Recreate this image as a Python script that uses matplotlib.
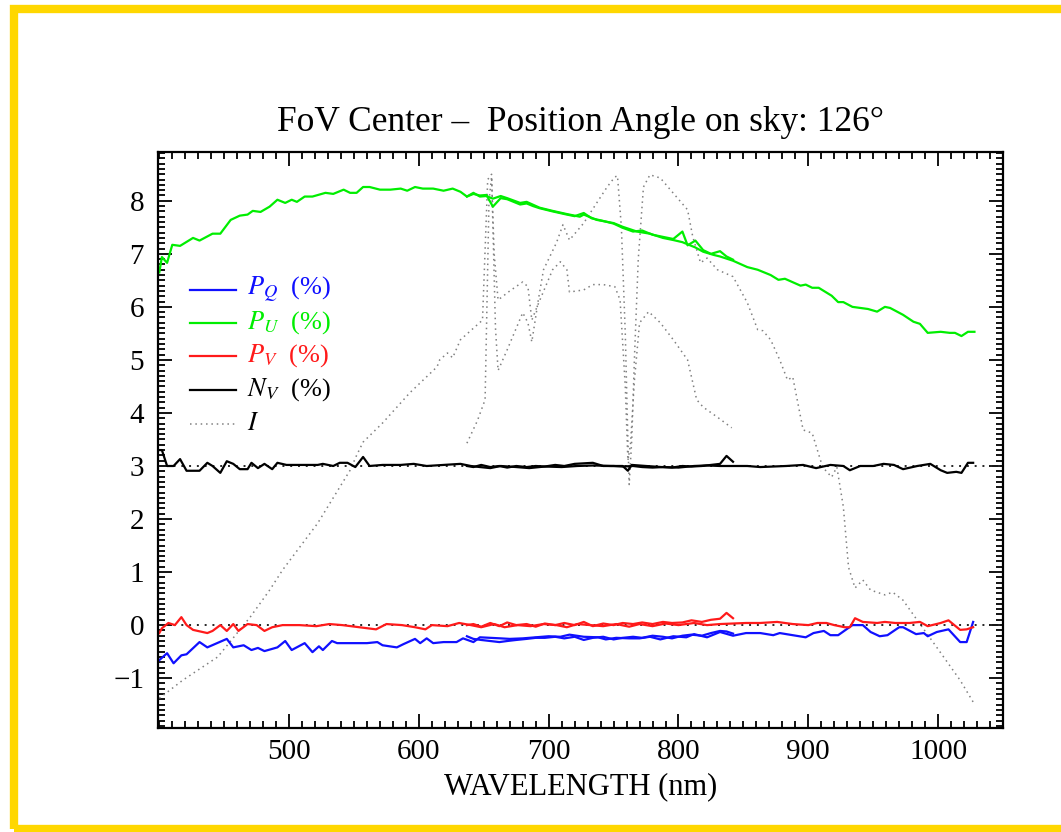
import numpy as np
import matplotlib
matplotlib.use('Agg')
import matplotlib.pyplot as plt
from matplotlib.ticker import MultipleLocator
from matplotlib.patches import Rectangle

plt.rcParams['font.family'] = ['Liberation Serif', 'DejaVu Serif']
plt.rcParams['mathtext.fontset'] = 'stix'

# ---- data set 1 (full range) ----
wl_pq1 = [400, 406, 411, 417, 421, 431, 437, 452, 457, 465, 471, 476, 481, 491, 497, 502, 512, 518,
          523, 526, 533, 537, 547, 560, 568, 572, 583, 588, 597, 601, 606, 611, 619, 629, 634, 642,
          647, 655, 663, 670, 680, 690, 700, 709, 716, 727, 738, 744, 752, 762, 770, 778, 786, 796,
          806, 812, 822, 832, 842, 852, 863, 873, 878, 888, 898, 904, 912, 917, 923, 934, 942, 948,
          955, 961, 970, 973, 983, 989, 992, 999, 1008, 1017, 1022, 1027]
pq1 = [-0.66, -0.53, -0.72, -0.57, -0.55, -0.32, -0.42, -0.26, -0.42, -0.38, -0.47, -0.43, -0.49,
       -0.42, -0.30, -0.47, -0.34, -0.51, -0.40, -0.47, -0.30, -0.34, -0.34, -0.34, -0.32, -0.38,
       -0.42, -0.36, -0.26, -0.34, -0.25, -0.34, -0.32, -0.32, -0.25, -0.32, -0.23, -0.24, -0.25,
       -0.26, -0.25, -0.23, -0.21, -0.22, -0.18, -0.22, -0.23, -0.27, -0.24, -0.25, -0.25, -0.22,
       -0.27, -0.21, -0.23, -0.17, -0.23, -0.13, -0.20, -0.15, -0.15, -0.19, -0.15, -0.19, -0.23,
       -0.15, -0.11, -0.19, -0.19, 0.0, 0.0, -0.13, -0.21, -0.19, -0.04, -0.04, -0.17, -0.15, -0.21,
       -0.13, -0.08, -0.32, -0.32, 0.06]

wl_pu1 = [400, 402, 406, 410, 416, 426, 431, 441, 447, 455, 462, 468, 472, 478, 485, 491, 497, 502,
          506, 512, 518, 528, 534, 542, 547, 552, 557, 562, 570, 578, 586, 591, 597, 603, 611, 619,
          626, 632, 637, 642, 647, 652, 657, 663, 668, 678, 683, 693, 703, 714, 724, 727, 737, 750,
          757, 768, 778, 788, 796, 803, 807, 813, 819, 827, 832, 842, 853, 861, 871, 877, 882, 894,
          898, 903, 908, 918, 923, 927, 934, 940, 946, 953, 959, 963, 973, 981, 986, 992, 1002, 1009,
          1013, 1018, 1023, 1028]
pu1 = [6.65, 6.94, 6.83, 7.17, 7.15, 7.30, 7.25, 7.38, 7.38, 7.64, 7.72, 7.74, 7.81, 7.79, 7.89,
       8.02, 7.96, 8.02, 7.98, 8.08, 8.08, 8.15, 8.13, 8.21, 8.15, 8.15, 8.26, 8.26, 8.21, 8.21,
       8.23, 8.19, 8.26, 8.23, 8.23, 8.19, 8.23, 8.17, 8.08, 8.15, 8.08, 8.09, 8.04, 8.09, 8.05,
       7.96, 7.98, 7.87, 7.81, 7.75, 7.70, 7.74, 7.64, 7.58, 7.51, 7.42, 7.38, 7.30, 7.26, 7.22,
       7.18, 7.12, 7.04, 6.98, 6.95, 6.87, 6.75, 6.70, 6.60, 6.51, 6.53, 6.40, 6.42, 6.36, 6.36,
       6.21, 6.09, 6.09, 6.00, 5.98, 5.96, 5.91, 6.00, 5.98, 5.85, 5.72, 5.68, 5.51, 5.53, 5.51,
       5.51, 5.45, 5.53, 5.53]

wl_pv1 = [400, 402, 407, 412, 417, 421, 426, 437, 441, 447, 452, 457, 461, 468, 475, 481, 487, 495,
          508, 521, 531, 541, 554, 567, 575, 587, 597, 605, 610, 622, 631, 640, 648, 658, 666, 676,
          686, 696, 706, 714, 722, 732, 742, 752, 762, 770, 780, 790, 800, 812, 822, 832, 842, 852,
          863, 876, 888, 900, 907, 914, 920, 928, 932, 936, 942, 953, 959, 967, 978, 986, 992, 1002,
          1008, 1017, 1022, 1027]
pv1 = [-0.15, -0.06, 0.04, 0.0, 0.15, 0.0, -0.09, -0.15, -0.11, 0.0, -0.11, 0.02, -0.11, 0.02,
       0.0, -0.11, -0.04, 0.0, 0.0, -0.02, 0.02, 0.0, -0.04, -0.08, 0.02, 0.0, -0.04, -0.08, 0.0,
       -0.02, 0.04, 0.0, -0.04, 0.02, -0.04, 0.0, -0.02, 0.02, 0.0, -0.04, 0.02, 0.0, -0.02, 0.02,
       -0.03, 0.02, -0.02, 0.03, 0.0, 0.04, 0.0, 0.02, 0.03, 0.04, 0.04, 0.06, 0.02, 0.0, 0.04,
       0.04, 0.0, -0.04, -0.04, 0.13, 0.06, 0.04, 0.06, 0.04, 0.04, 0.06, -0.02, 0.04, 0.09, -0.09,
       -0.08, -0.04]

wl_nv1 = [400, 402, 406, 411, 416, 421, 431, 437, 441, 447, 452, 457, 462, 468, 471, 476, 481, 487,
          491, 498, 508, 522, 526, 534, 539, 545, 551, 557, 562, 572, 586, 596, 606, 619, 632, 640,
          647, 655, 663, 675, 685, 697, 710, 722, 735, 748, 757, 761, 764, 775, 787, 800, 812, 822,
          832, 842, 853, 863, 873, 883, 896, 906, 917, 927, 932, 940, 950, 958, 966, 973, 984, 994,
          1002, 1007, 1014, 1018, 1023, 1027]
nv1 = [3.30, 3.30, 3.0, 3.0, 3.13, 2.91, 2.91, 3.06, 3.0, 2.87, 3.09, 3.04, 2.94, 2.94, 3.06, 2.96,
       3.04, 2.94, 3.06, 3.02, 3.02, 3.02, 3.04, 3.0, 3.06, 3.06, 2.98, 3.17, 3.0, 3.02, 3.02,
       3.04, 3.0, 3.02, 3.04, 3.0, 2.98, 2.96, 3.0, 2.98, 2.96, 2.99, 2.98, 3.0, 3.01, 3.0, 3.0,
       2.91, 3.02, 3.0, 2.98, 2.97, 3.0, 3.01, 3.0, 3.0, 3.0, 2.98, 2.99, 3.0, 3.02, 2.96, 3.02,
       3.0, 2.92, 3.0, 3.0, 3.04, 3.02, 2.94, 3.0, 3.04, 2.92, 2.87, 2.89, 2.87, 3.06, 3.06]

wl_i1 = [400, 418, 445, 460, 470, 485, 495, 522, 547, 552, 557, 572, 593, 614, 616, 622, 626, 632,
         649, 653, 656, 659, 661, 668, 680, 684, 687, 692, 696, 706, 711, 716, 727, 737, 745, 751,
         753, 756, 759, 761, 762, 764, 766, 769, 773, 778, 786, 794, 807, 811, 817, 822, 830, 842,
         853, 861, 865, 871, 878, 884, 888, 896, 903, 911, 918, 922, 927, 931, 936, 942, 948, 959,
         965, 973, 984, 999, 1017, 1027]
i1 = [-1.38, -1.04, -0.60, -0.15, 0.15, 0.66, 1.04, 1.92, 2.92, 3.20, 3.45, 3.81, 4.38, 4.87, 5.0,
      5.13, 5.04, 5.38, 5.75, 8.40, 8.50, 5.60, 4.80, 5.19, 5.89, 5.70, 5.34, 6.13, 6.70, 7.21,
      7.55, 7.26, 7.58, 7.96, 8.26, 8.45, 8.47, 7.50, 5.50, 3.50, 2.65, 3.50, 5.00, 6.90, 8.26,
      8.49, 8.43, 8.20, 7.83, 7.32, 6.83, 6.92, 6.70, 6.57, 6.08, 5.57, 5.55, 5.38, 5.00, 4.62,
      4.68, 3.68, 3.62, 2.98, 2.79, 2.98, 2.23, 1.09, 0.70, 0.85, 0.66, 0.57, 0.62, 0.47, 0.09,
      -0.42, -1.04, -1.45]

# ---- data set 2 (637-842 nm) ----
wl_2 = [637, 642, 648, 655, 662, 668, 675, 683, 690, 697, 705, 712, 720, 727, 734, 742, 750, 757,
        765, 772, 780, 788, 795, 803, 810, 818, 825, 832, 837, 842]
pq2 = [-0.21, -0.26, -0.28, -0.30, -0.32, -0.30, -0.28, -0.26, -0.24, -0.24, -0.22, -0.25, -0.22,
       -0.28, -0.24, -0.22, -0.27, -0.24, -0.22, -0.24, -0.20, -0.22, -0.25, -0.20, -0.18, -0.20,
       -0.15, -0.11, -0.12, -0.16]
pv2 = [0.0, 0.02, -0.03, 0.04, -0.02, 0.05, 0.0, 0.02, -0.03, 0.03, 0.0, 0.04, 0.0, 0.06, -0.02,
       0.03, 0.0, 0.04, 0.02, 0.05, 0.02, 0.06, 0.04, 0.05, 0.09, 0.06, 0.10, 0.12, 0.23, 0.13]
nv2 = [3.0, 2.98, 3.02, 2.98, 3.0, 2.97, 3.0, 2.98, 3.0, 2.99, 3.02, 3.0, 3.04, 3.05, 3.06, 3.0,
       3.0, 2.99, 3.0, 2.98, 2.97, 2.98, 2.97, 3.0, 2.99, 3.0, 3.02, 3.04, 3.19, 3.08]
wl_pu2 = [637, 642, 647, 652, 657, 663, 668, 673, 678, 683, 688, 693, 703, 714, 720, 727, 733, 742,
          750, 757, 765, 772, 780, 788, 796, 803, 807, 813, 819, 825, 832, 837, 842]
pu2 = [8.08, 8.13, 8.10, 8.11, 7.89, 8.05, 8.03, 7.98, 7.93, 7.95, 7.90, 7.86, 7.80, 7.74, 7.71,
       7.77, 7.67, 7.62, 7.57, 7.49, 7.42, 7.44, 7.36, 7.32, 7.28, 7.42, 7.16, 7.25, 7.07, 7.00,
       7.05, 6.95, 6.89]
wl_i2 = [637, 645, 651, 654, 656, 658, 661, 670, 680, 684, 687, 691, 703, 709, 714, 716, 727, 734,
         742, 751, 755, 759, 761, 763, 766, 770, 777, 786, 796, 807, 814, 819, 830, 841]
i2 = [3.43, 3.85, 4.25, 8.00, 8.45, 7.00, 6.13, 6.30, 6.47, 6.38, 5.75, 6.00, 6.70, 6.85, 6.70,
      6.28, 6.32, 6.42, 6.42, 6.38, 6.13, 4.50, 3.10, 3.40, 4.60, 5.70, 5.91, 5.70, 5.38, 5.00,
      4.25, 4.11, 3.92, 3.72]

blue, green, red = '#1010ff', '#00ee00', '#ff1a1a'

fig = plt.figure(figsize=(10.61, 8.32), dpi=100)
ax = fig.add_axes([158 / 1061, 104 / 832, 845 / 1061, 576 / 832])

# intensity curves
for w, v in [(wl_i1, i1), (wl_i2, i2)]:
    ax.plot(w, v, color='0.5', lw=1.1, ls=(0, (1, 2.5)))

# reference levels
ax.axhline(0, color='0.15', lw=1.4, ls=(0, (1, 3)))
ax.axhline(3, color='0.15', lw=1.4, ls=(0, (1, 3)))

lw = 1.6
ax.plot(wl_pq1, pq1, color=blue, lw=lw)
ax.plot(wl_2, pq2, color=blue, lw=lw)
ax.plot(wl_pv1, pv1, color=red, lw=lw)
ax.plot(wl_2, pv2, color=red, lw=lw)
ax.plot(wl_nv1, nv1, color='black', lw=lw)
ax.plot(wl_2, nv2, color='black', lw=lw)
ax.plot(wl_pu1, pu1, color=green, lw=lw)
ax.plot(wl_pu2, pu2, color=green, lw=lw)

ax.set_xlim(399, 1050)
ax.set_ylim(-1.94, 8.92)
ax.set_xticks([500, 600, 700, 800, 900, 1000])
ax.xaxis.set_minor_locator(MultipleLocator(10))
ax.yaxis.set_major_locator(MultipleLocator(1))
ax.yaxis.set_minor_locator(MultipleLocator(0.1))
ax.tick_params(which='both', direction='in', top=True, right=True, width=1.3, labelsize=21)
ax.tick_params(which='major', length=10)
ax.tick_params(which='minor', length=5)
ax.tick_params(axis='x', pad=8)
ax.tick_params(axis='y', pad=10)
for s in ax.spines.values():
    s.set_linewidth(1.6)

ax.set_xlabel('WAVELENGTH (nm)', fontsize=22, labelpad=5)
ax.set_title('FoV Center \u2013  Position Angle on sky: 126\u00b0', fontsize=25.5, pad=15)

# legend drawn by hand
leg = [(blue, '-', r'$P_Q$  (%)', blue),
       (green, '-', r'$P_U$  (%)', green),
       (red, '-', r'$P_V$  (%)', red),
       ('black', '-', r'$N_V$  (%)', 'black'),
       ('0.5', (0, (1, 2.5)), r'$I$', 'black')]
ys = [0.760, 0.703, 0.646, 0.587, 0.528]
for (c, ls, lab, tc), y in zip(leg, ys):
    ax.plot([0.038, 0.092], [y, y], transform=ax.transAxes, color=c, ls=ls,
            lw=1.1 if ls != '-' else lw)
    ax.text(0.105, y, lab, transform=ax.transAxes, color=tc, fontsize=19, va='center')

fig.patches.append(Rectangle((14 / 1061, 3 / 832), 1.2, 820 / 832, transform=fig.transFigure,
                             fill=False, edgecolor='#ffd700', lw=6))

plt.savefig('out.png', dpi=100)
